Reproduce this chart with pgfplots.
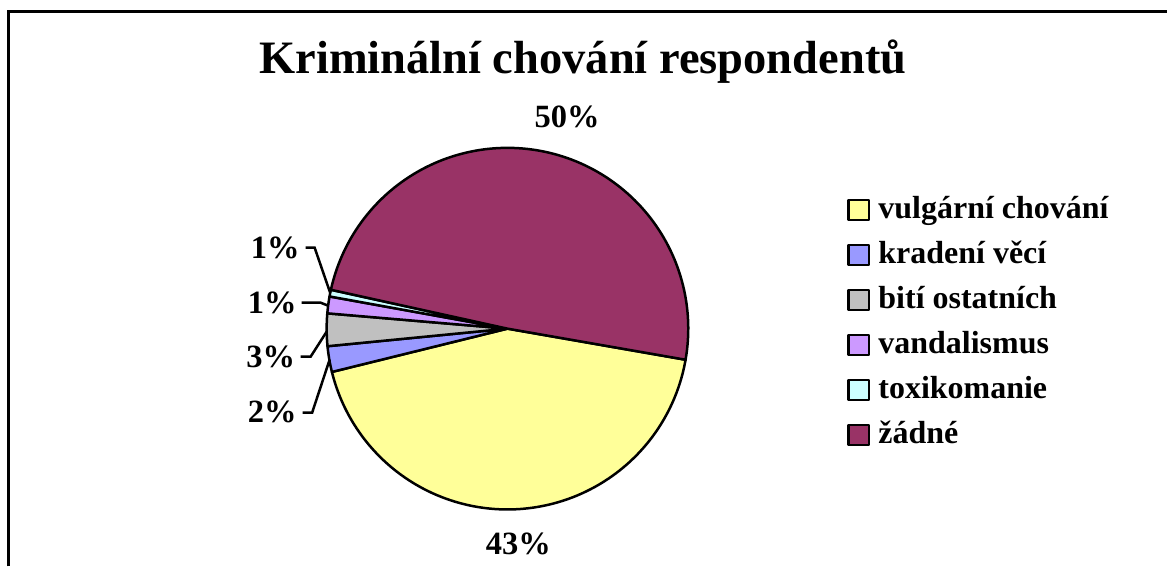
\documentclass[border=0pt]{standalone}
\usepackage{pgfplots}
\pgfplotsset{compat=1.18}
\usepackage{fontspec}
\setmainfont{Liberation Serif}
\definecolor{cY}{HTML}{FFFF99}
\definecolor{cB}{HTML}{9999FF}
\definecolor{cG}{HTML}{C0C0C0}
\definecolor{cV}{HTML}{CC99FF}
\definecolor{cC}{HTML}{CCFFFF}
\definecolor{cM}{HTML}{993366}
% data (percent)
\def\vA{43.4}% vulgarni chovani
\def\vB{2.3}% kradeni veci
\def\vC{2.9}% biti ostatnich
\def\vD{1.5}% vandalismus
\def\vE{0.6}% toxikomanie
\def\vF{49.3}% zadne
\def\cx{508}\def\cy{329}\def\R{181}
\pgfmathsetmacro\aA{350.1}
\pgfmathsetmacro\aB{\aA-3.6*\vA}
\pgfmathsetmacro\aC{\aB-3.6*\vB}
\pgfmathsetmacro\aD{\aC-3.6*\vC}
\pgfmathsetmacro\aE{\aD-3.6*\vD}
\pgfmathsetmacro\aF{\aE-3.6*\vE}
\pgfmathsetmacro\aG{\aF-3.6*\vF}
\begin{document}
\begin{tikzpicture}
\begin{axis}[
  scale only axis, width=1168pt, height=567pt,
  xmin=0, xmax=1168, ymin=0, ymax=567, y dir=reverse,
  hide axis, clip=false,
  legend style={at={(axis cs:848,197)}, anchor=north west, draw=none, fill=none,
    inner sep=0pt, row sep=0pt, column sep=8pt,
    font=\bfseries\fontsize{32}{38}\selectfont,
    nodes={inner sep=0pt, text height=22pt, text depth=23pt, anchor=base west}},
  legend cell align=left,
  legend image code/.code={\draw[#1, draw=black, line width=2.2pt] (0pt,-1pt) rectangle (21pt,19pt);},
  every axis plot/.append style={draw=black, line width=2.5pt, line join=round, samples=120},
]
\path (axis cs:0,0) rectangle (axis cs:1168,567);
\addplot[fill=cY, domain=\aB:\aA] ({\cx+\R*cos(x)},{\cy-\R*sin(x)}) -- (axis cs:\cx,\cy) -- cycle;
\addlegendentry{vulgární chování}
\addplot[fill=cB, domain=\aC:\aB] ({\cx+\R*cos(x)},{\cy-\R*sin(x)}) -- (axis cs:\cx,\cy) -- cycle;
\addlegendentry{kradení věcí}
\addplot[fill=cG, domain=\aD:\aC] ({\cx+\R*cos(x)},{\cy-\R*sin(x)}) -- (axis cs:\cx,\cy) -- cycle;
\addlegendentry{bití ostatních}
\addplot[fill=cV, domain=\aE:\aD] ({\cx+\R*cos(x)},{\cy-\R*sin(x)}) -- (axis cs:\cx,\cy) -- cycle;
\addlegendentry{vandalismus}
\addplot[fill=cC, domain=\aF:\aE] ({\cx+\R*cos(x)},{\cy-\R*sin(x)}) -- (axis cs:\cx,\cy) -- cycle;
\addlegendentry{toxikomanie}
\addplot[fill=cM, domain=\aG:\aF] ({\cx+\R*cos(x)},{\cy-\R*sin(x)}) -- (axis cs:\cx,\cy) -- cycle;
\addlegendentry{žádné}
% frame
\draw[line width=2.5pt] (axis cs:8.3,567) -- (axis cs:8.3,11.5) -- (axis cs:1168,11.5);
% title
\node[anchor=base, font=\bfseries\fontsize{46.5}{52}\selectfont, inner sep=0pt] at (axis cs:583.5,74) {Kriminální chování respondentů};
% percentage labels
\tikzset{lab/.style={font=\bfseries\fontsize{32.5}{38}\selectfont, inner sep=0pt}}
\node[lab, anchor=base] at (axis cs:567.7,128) {50\%};
\node[lab, anchor=base] at (axis cs:519,555) {43\%};
\node[lab, anchor=base east] at (axis cs:300,259) {1\%};
\node[lab, anchor=base east] at (axis cs:297,314) {1\%};
\node[lab, anchor=base east] at (axis cs:295.5,368) {3\%};
\node[lab, anchor=base east] at (axis cs:297,423) {2\%};
% leader lines
\draw[line width=2.5pt] (axis cs:306,248) -- (axis cs:315,248) -- (axis cs:330.5,293);
\draw[line width=2.5pt] (axis cs:302,303) -- (axis cs:321,303) -- (axis cs:328.5,306);
\draw[line width=2.5pt] (axis cs:301,357) -- (axis cs:311,357) -- (axis cs:327,332);
\draw[line width=2.5pt] (axis cs:303,413) -- (axis cs:312.5,413) -- (axis cs:330,360);
\end{axis}
\end{tikzpicture}
\end{document}
